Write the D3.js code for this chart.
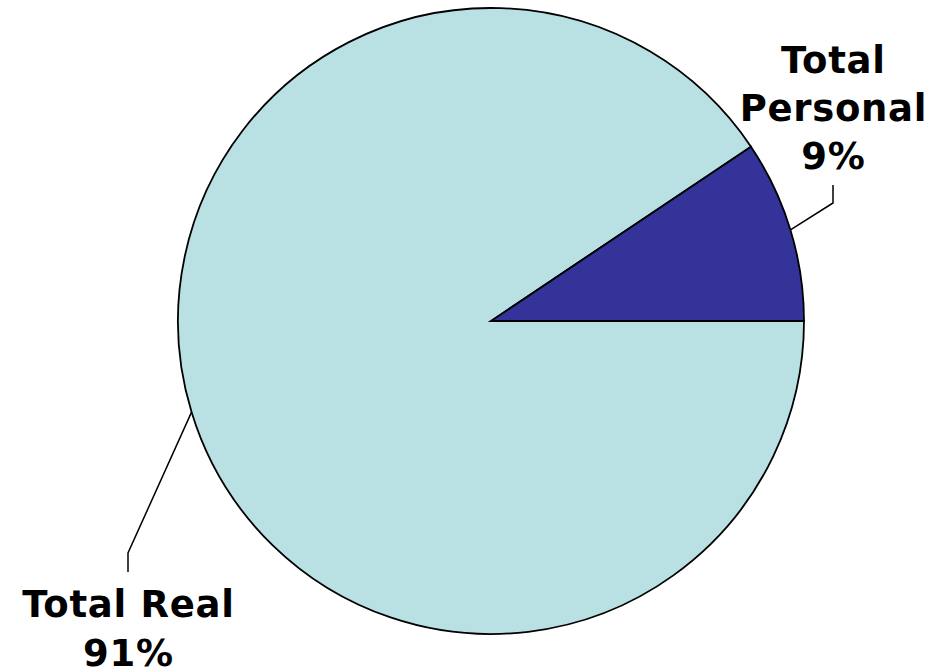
<!DOCTYPE html>
<html>
<head>
<meta charset="utf-8">
<script src="https://cdn.jsdelivr.net/npm/d3@7"></script>
<style>
html,body{margin:0;padding:0;background:#fff;}
svg{display:block;}
</style>
</head>
<body>
<svg id="chart" width="931" height="672"></svg>
<script>
// Data
const categories = ["Total Real", "Total Personal"];
const values = [90.6, 9.4];
const colors = ["#B9E0E3", "#333399"];

const W = 931, H = 672;
const cx = 491, cy = 321, R = 313;

const svg = d3.select("#chart");
const g = svg.append("g").attr("transform", `translate(${cx},${cy})`);

const data = categories.map((c, i) => ({ name: c, value: values[i], color: colors[i] }));
const pie = d3.pie().sort(null).value(d => d.value)
  .startAngle(Math.PI / 2).endAngle(Math.PI / 2 + 2 * Math.PI);
const arcs = pie(data);
const arc = d3.arc().innerRadius(0).outerRadius(R);

g.selectAll("path.slice").data(arcs).enter().append("path")
  .attr("class", "slice")
  .attr("d", arc)
  .attr("fill", d => d.data.color)
  .attr("stroke", "#000")
  .attr("stroke-width", 1.8)
  .attr("stroke-linejoin", "miter");

const total = d3.sum(values);
// label layout: elbow offset and text anchor relative to pie centre
const labelLayout = {
  "Total Personal": { elbow: [342, -118], end: [342, -136], lines: [-248, -200, -152] },
  "Total Real": { elbow: [-363, 232], end: [-363, 251], lines: [296, 345] }
};

arcs.forEach(a => {
  const L = labelLayout[a.data.name];
  const mid = (a.startAngle + a.endAngle) / 2;
  const p0 = [Math.sin(mid) * R, -Math.cos(mid) * R];
  g.append("polyline")
    .attr("points", [p0, L.elbow, L.end].map(p => p.join(",")).join(" "))
    .attr("fill", "none")
    .attr("stroke", "#000")
    .attr("stroke-width", 1.5);
  const pct = Math.round(a.data.value / total * 100) + "%";
  const words = a.data.name === "Total Personal" ? ["Total", "Personal", pct] : ["Total Real", pct];
  words.forEach((w, i) => {
    g.append("text")
      .attr("x", L.elbow[0] + 0.4)
      .attr("y", L.lines[i])
      .attr("text-anchor", "middle")
      .attr("font-family", "'DejaVu Sans', Verdana, sans-serif")
      .attr("font-weight", "bold")
      .attr("font-size", 37)
      .attr("letter-spacing", "0.7px")
      .attr("fill", "#000")
      .text(w);
  });
});
</script>
</body>
</html>
